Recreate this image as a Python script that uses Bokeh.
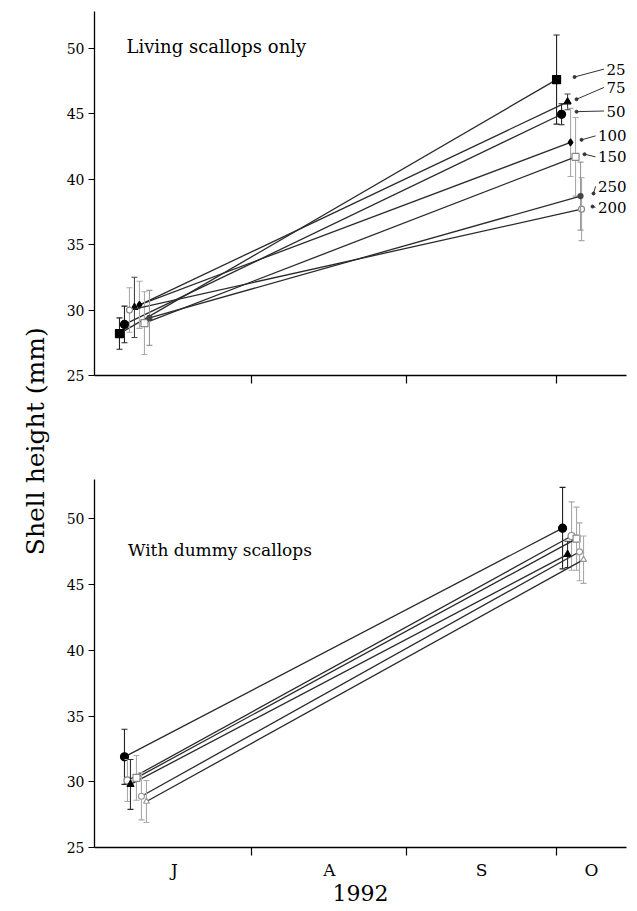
import numpy as np
from bokeh.plotting import figure
from bokeh.models import FixedTicker, Range1d, Label
from bokeh.layouts import row, column
from bokeh.embed import file_html
from bokeh.resources import INLINE
from bokeh.core.properties import value

FONT = "DejaVu Serif"

# x values: days since 1 July 1992
month_labels = ["J", "A", "S", "O"]
month_mid = [15.5, 46.5, 77, 99]
month_bounds = [31, 62, 92]
y_ticks = [25, 30, 35, 40, 45, 50]

# ---- top panel: living scallops only (density groups) ----
top_names = ["25", "50", "75", "100", "150", "200", "250"]
top_x_jul = [4.5, 5.5, 7.5, 8.5, 9.5, 6.5, 10.5]
top_y_jul = [28.2, 28.9, 30.2, 30.4, 29.0, 30.0, 29.4]
top_sd_jul = [1.2, 1.4, 2.3, 1.8, 2.4, 1.7, 2.1]
top_x_oct = [92.0, 93.0, 94.2, 94.8, 95.8, 97.0, 96.8]
top_y_oct = [47.6, 44.95, 45.9, 42.8, 41.7, 37.7, 38.7]
top_sd_oct = [3.4, 0.8, 0.6, 2.6, 3.0, 2.4, 2.6]
top_lab_x = [102.0, 102.0, 102.0, 100.3, 100.3, 100.3, 100.3]
top_lab_y = [48.4, 45.2, 47.0, 43.3, 41.7, 37.85, 39.45]
lead_dx = [3.6, 3.0, 1.8, 2.2, 1.8, 2.2, 2.6]

# ---- bottom panel: with dummy scallops ----
bot_x_jul = [5.5, 6.1, 6.7, 7.9, 8.9, 9.9]
bot_y_jul = [31.9, 30.1, 29.8, 30.3, 28.9, 28.5]
bot_sd_jul = [2.1, 1.6, 1.9, 1.7, 1.8, 1.6]
bot_x_oct = [93.2, 95.0, 94.2, 96.0, 96.6, 97.4]
bot_y_oct = [49.3, 48.7, 47.3, 48.5, 47.5, 46.9]
bot_sd_oct = [3.1, 2.6, 1.0, 2.4, 2.2, 1.8]

top_style = [
    ("square", "black", "black", "#222", 8),
    ("circle", "black", "black", "#222", 8),
    ("triangle", "black", "black", "#444", 7),
    ("diamond", "black", "black", "#aaa", 7),
    ("square", "white", "#888", "#aaa", 7),
    ("circle", "white", "#888", "#aaa", 6),
    ("circle", "#444", "#444", "#999", 5),
]
bot_style = [
    ("circle", "black", "black", "#222", 8),
    ("circle", "white", "#888", "#aaa", 7),
    ("triangle", "black", "black", "#333", 7),
    ("square", "white", "#888", "#aaa", 7),
    ("circle", "white", "#999", "#aaa", 6),
    ("triangle", "white", "#999", "#aaa", 6),
]


def style_panel(p, show_labels):
    p.xgrid.visible = False
    p.ygrid.visible = False
    p.outline_line_color = None
    p.background_fill_color = "white"
    p.border_fill_color = "white"
    xa = p.xaxis[0]
    xa.major_tick_line_color = None
    xa.major_tick_out = 0
    xa.minor_tick_out = 8
    xa.minor_tick_in = 0
    xa.minor_tick_line_color = "black"
    xa.minor_tick_line_width = 1.2
    xa.axis_line_color = "black"
    xa.axis_line_width = 1.3
    xa.major_label_text_font = FONT
    xa.major_label_text_color = "black"
    if show_labels:
        xa.ticker = FixedTicker(ticks=month_mid, minor_ticks=month_bounds)
        xa.major_label_overrides = {m: l for m, l in zip(month_mid, month_labels)}
        xa.major_label_text_font_size = "17px"
        xa.major_label_standoff = 4
        xa.axis_label = "1992"
        xa.axis_label_text_font = FONT
        xa.axis_label_text_font_size = "22px"
        xa.axis_label_text_font_style = "normal"
        xa.axis_label_text_color = "black"
        xa.axis_label_standoff = 2
    else:
        xa.ticker = FixedTicker(ticks=[], minor_ticks=month_bounds)
        xa.major_label_standoff = 0
    ya = p.yaxis[0]
    ya.ticker = FixedTicker(ticks=y_ticks)
    ya.minor_tick_line_color = None
    ya.major_tick_out = 6
    ya.major_tick_in = 0
    ya.major_tick_line_color = "black"
    ya.axis_line_color = "black"
    ya.axis_line_width = 1.3
    ya.major_label_text_font = FONT
    ya.major_label_text_font_size = "14px"
    ya.major_label_text_color = "black"
    ya.major_label_standoff = 4


def draw_series(p, xj, yj, sj, xo, yo, so, styles):
    cap = 0.6
    for i in range(len(xj)):
        marker, fill, lcol, ecol, size = styles[i]
        for x, y, s in ((xj[i], yj[i], sj[i]), (xo[i], yo[i], so[i])):
            p.segment(x0=[x], y0=[y - s], x1=[x], y1=[y + s], line_color=ecol, line_width=1.1)
            p.segment(x0=[x - cap, x - cap], y0=[y - s, y + s], x1=[x + cap, x + cap],
                      y1=[y - s, y + s], line_color=ecol, line_width=1.1)
        p.line(x=[xj[i], xo[i]], y=[yj[i], yo[i]], line_color="#2a2a2a", line_width=1.3)
        p.scatter(x=[xj[i], xo[i]], y=[yj[i], yo[i]], marker=marker, size=size,
                  fill_color=fill, line_color=lcol, line_width=1.2)


TOTAL_H = 907

# label column figure
p0 = figure(width=50, height=TOTAL_H, x_range=Range1d(0, 1), y_range=Range1d(0, 1),
            output_backend="svg", toolbar_location=None, min_border=0)
p0.axis.visible = False
p0.grid.visible = False
p0.outline_line_color = None
p0.text(x=[0.7], y=[0.514], text=["Shell height (mm)"], angle=np.pi / 2,
        text_align="center", text_baseline="middle", text_font=value(FONT),
        text_font_size="25px", text_color="black")

# top panel
p1 = figure(width=578, height=424, x_range=Range1d(-0.5, 106), y_range=Range1d(25, 52.8),
            output_backend="svg", toolbar_location=None,
            min_border_left=44, min_border_right=2, min_border_top=11, min_border_bottom=49)
style_panel(p1, False)
draw_series(p1, top_x_jul, top_y_jul, top_sd_jul, top_x_oct, top_y_oct, top_sd_oct, top_style)
for i in range(len(top_names)):
    x0 = top_x_oct[i] + lead_dx[i]
    p1.segment(x0=[x0], y0=[top_y_oct[i] + 0.2], x1=[top_lab_x[i] - 0.5],
               y1=[top_lab_y[i]], line_color="#333", line_width=1)
    p1.scatter(x=[x0], y=[top_y_oct[i] + 0.2], size=3, color="#333")
p1.text(x=top_lab_x, y=top_lab_y, text=top_names, text_align="left", text_baseline="middle",
        text_font=value(FONT), text_font_size="15px", text_color="black")
p1.add_layout(Label(x=5.9, y=50.15, text="Living scallops only", text_font=FONT,
                    text_font_size="18px", text_baseline="middle", text_color="black"))

# bottom panel
p2 = figure(width=578, height=TOTAL_H - 424, x_range=Range1d(-0.5, 106), y_range=Range1d(25, 53),
            output_backend="svg", toolbar_location=None,
            min_border_left=44, min_border_right=2, min_border_top=55, min_border_bottom=60)
style_panel(p2, True)
draw_series(p2, bot_x_jul, bot_y_jul, bot_sd_jul, bot_x_oct, bot_y_oct, bot_sd_oct, bot_style)
p2.add_layout(Label(x=6.2, y=47.6, text="With dummy scallops", text_font=FONT,
                    text_font_size="17px", text_baseline="middle", text_color="black"))

layout = row(p0, column(p1, p2))
open("out.html", "w").write(file_html(layout, INLINE))
